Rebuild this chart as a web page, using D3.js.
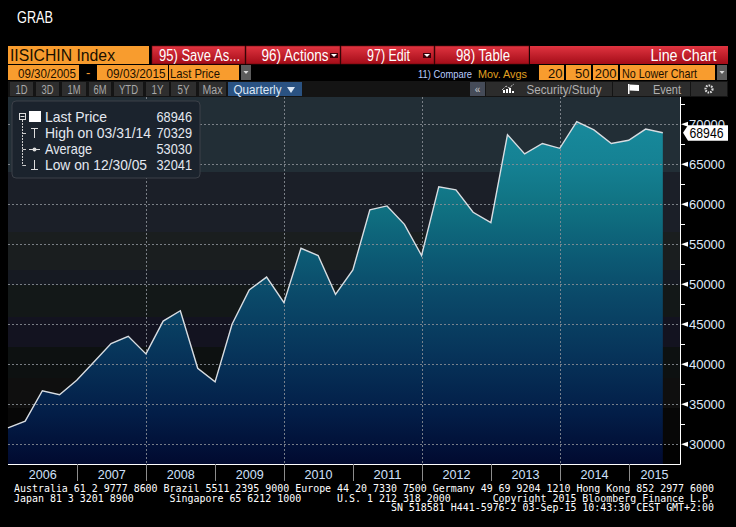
<!DOCTYPE html>
<html><head><meta charset="utf-8">
<script src="https://cdn.jsdelivr.net/npm/d3@7"></script>
<style>
html,body{margin:0;padding:0;background:#000;}
svg{display:block;}
text{font-family:"Liberation Sans",Arial,sans-serif;}
.mono{font-family:"DejaVu Sans Mono",monospace;font-size:10px;fill:#fff;}
</style></head>
<body>
<svg id="c" width="736" height="527"></svg>
<script>
// ---------- DATA ----------
const quarterDates = ["2005-12-30","2006-03-31","2006-06-30","2006-09-29","2006-12-29","2007-03-30","2007-06-29","2007-09-28","2007-12-31","2008-03-31","2008-06-30","2008-09-30","2008-12-31","2009-03-31","2009-06-30","2009-09-30","2009-12-31","2010-03-31","2010-06-30","2010-09-30","2010-12-31","2011-03-31","2011-06-30","2011-09-30","2011-12-30","2012-03-30","2012-06-29","2012-09-28","2012-12-31","2013-03-29","2013-06-28","2013-09-30","2013-12-31","2014-03-31","2014-06-30","2014-09-30","2014-12-31","2015-03-31","2015-06-30"];
const lastPrice = [32041,32900,36700,36200,38000,40300,42600,43500,41300,45400,46700,39500,37800,45000,49300,50900,47700,54500,53600,48750,51800,59300,59800,57500,53600,62200,61800,59000,57700,68700,66300,67600,67000,70329,69300,67600,68000,69400,68946];
const yearLabels = ["2006","2007","2008","2009","2010","2011","2012","2013","2014","2015"];
const yTickValues = [30000,35000,40000,45000,50000,55000,60000,65000,70000];
const yMinorValues = [27500,32500,37500,42500,47500,52500,57500,62500,67500,72500];
const legendRows = [["Last Price","68946"],["High on 03/31/14","70329"],["Average","53030"],["Low on 12/30/05","32041"]];
const periodButtons = ["1D","3D","1M","6M","YTD","1Y","5Y","Max"];
const footerLines = [
 [[0,"Australia 61 2 9777 8600 Brazil 5511 2395 9000 Europe 44 20 7330 7500 Germany 49 69 9204 1210 Hong Kong 852 2977 6000"]],
 [[0,"Japan 81 3 3201 8900"],[26,"Singapore 65 6212 1000"],[54,"U.S. 1 212 318 2000"],[80,"Copyright 2015 Bloomberg Finance L.P."]],
 [[63,"SN 518581 H441-5976-2 03-Sep-15 10:43:30 CEST GMT+2:00"]]
];

// ---------- LAYOUT ----------
const svg = d3.select("#c");
const parse = d3.timeParse("%Y-%m-%d");
const data = quarterDates.map((d,i)=>({date:parse(d), v:lastPrice[i]}));
const L=8, R=680, T=97, B=464;
const x = d3.scaleTime().domain([parse("2005-12-30"), parse("2015-09-29")]).range([L,R]);
const y = d3.scaleLinear().domain([30000,70000]).range([444.3,124.3]);

function txt(p, xx, yy, s, size, fill, w, anchor){
  const t = p.append("text").attr("x",xx).attr("y",yy).attr("font-size",size).attr("fill",fill).text(s);
  if(anchor) t.attr("text-anchor",anchor);
  if(w) t.attr("textLength",w).attr("lengthAdjust","spacingAndGlyphs");
  return t;
}

const defs = svg.append("defs");
const grad = defs.append("linearGradient").attr("id","ag").attr("gradientUnits","userSpaceOnUse")
  .attr("x1",0).attr("x2",0).attr("y1",120).attr("y2",464);
[[0,"#188a9c"],[0.12,"#158294"],[0.25,"#107282"],[0.4,"#0c5a74"],[0.52,"#0a4868"],[0.68,"#07345a"],[0.85,"#031e48"],[1,"#010a30"]]
 .forEach(s=>grad.append("stop").attr("offset",s[0]).attr("stop-color",s[1]));

// background bands of plot
const bands = [[97,172,"#222e36"],[172,232,"#1b1f28"],[232,270,"#1a1e1f"],[270,285,"#161a22"],[285,317,"#131818"],[317,347,"#131320"],[347,378,"#0d1111"],[378,408,"#0f0f0f"],[408,444,"#070707"],[444,464,"#020202"]];
svg.selectAll("rect.band").data(bands).join("rect").attr("class","band")
  .attr("x",L).attr("width",R-L).attr("y",d=>d[0]).attr("height",d=>d[1]-d[0]).attr("fill",d=>d[2]);

// area
const area = d3.area().x(d=>x(d.date)).y0(B).y1(d=>y(d.v));
svg.append("path").datum(data).attr("d",area).attr("fill","url(#ag)");

// grid
const g = svg.append("g");
g.selectAll("line.hg").data(yTickValues).join("line")
  .attr("x1",L).attr("x2",R).attr("y1",d=>Math.round(y(d))+0.5).attr("y2",d=>Math.round(y(d))+0.5)
  .attr("stroke","#8a8f96").attr("stroke-width",1).attr("stroke-dasharray","2,2").attr("opacity",0.85);
const vgrid = ["2008","2010","2012","2014"];
g.selectAll("line.vg").data(vgrid).join("line")
  .attr("x1",d=>Math.round(x(parse(d+"-01-01")))+0.5).attr("x2",d=>Math.round(x(parse(d+"-01-01")))+0.5)
  .attr("y1",T).attr("y2",B)
  .attr("stroke","#8a8f96").attr("stroke-dasharray","2,2").attr("opacity",0.85);

// line
svg.append("path").datum(data).attr("d",d3.line().x(d=>x(d.date)).y(d=>y(d.v)))
  .attr("fill","none").attr("stroke","#d8dde2").attr("stroke-width",1.4);

// axes frame
svg.append("line").attr("x1",R+0.5).attr("x2",R+0.5).attr("y1",T).attr("y2",B+0.5).attr("stroke","#fff");
svg.append("line").attr("x1",L).attr("x2",R+0.5).attr("y1",B+0.5).attr("y2",B+0.5).attr("stroke","#fff");

// y axis
const ya = svg.append("g");
ya.selectAll("line.mt").data(yMinorValues.filter(v=>y(v)>T&&y(v)<B)).join("line")
  .attr("x1",R).attr("x2",R+5).attr("y1",d=>Math.round(y(d))+0.5).attr("y2",d=>Math.round(y(d))+0.5).attr("stroke","#fff");
ya.selectAll("path.tri").data(yTickValues).join("path")
  .attr("d",d=>{const yy=y(d);return `M${R+1},${yy} L${R+8},${yy-2.5} L${R+8},${yy+2.5}Z`;}).attr("fill","#fff");
yTickValues.forEach(v=>txt(ya, R+9, y(v)+5, String(v), 13.5, "#dfe9f8", 36));

// price tag
const lastV = lastPrice[lastPrice.length-1];
const py = y(lastV);
svg.append("path").attr("d",`M${R+3},${py} L${R+8},${py-7.5} L${728},${py-7.5} L${728},${py+8} L${R+8},${py+8}Z`)
  .attr("fill","#fff");
txt(svg, R+9.5, py+5.5, String(lastV), 14, "#000", 34);

// x axis
const years = yearLabels.map(s=>+s);
svg.selectAll("line.ysep").data(years.slice(1)).join("line")
  .attr("x1",d=>Math.round(x(new Date(d,0,1)))+0.5).attr("x2",d=>Math.round(x(new Date(d,0,1)))+0.5)
  .attr("y1",B).attr("y2",481).attr("stroke","#8c8c8c");
yearLabels.forEach(d=>{
  const a=Math.max(L,x(new Date(+d,0,1))), b=Math.min(R,x(new Date(+d+1,0,1)));
  txt(svg,(a+b)/2,479,d,13.5,"#cfe0fb",28,"middle");
});

// footer
const cw = 5.983;
footerLines.forEach((line,li)=>{
  line.forEach(seg=>{
    svg.append("text").attr("class","mono").attr("x",14+seg[0]*cw).attr("y",[491.5,501.5,511][li])
      .attr("textLength",seg[1].length*cw).attr("lengthAdjust","spacingAndGlyphs").text(seg[1]);
  });
});

// title
txt(svg,17,23,"GRAB",16,"#fff",36);

// toolbar row 1
const redG = defs.append("linearGradient").attr("id","rg").attr("x1",0).attr("x2",0).attr("y1",0).attr("y2",1);
redG.append("stop").attr("offset",0).attr("stop-color","#e03440");
redG.append("stop").attr("offset",1).attr("stop-color","#a40c18");
svg.append("rect").attr("x",8).attr("y",46).attr("width",141).attr("height",18).attr("fill","#f89c2e");
txt(svg,10,61,"IISICHIN Index",16,"#1a1000",105);
[[152,93],[246,94],[341,93],[435,94]].forEach(b=>{
  svg.append("rect").attr("x",b[0]).attr("y",46).attr("width",b[1]).attr("height",18).attr("fill","url(#rg)").attr("stroke","#6a0a10").attr("stroke-width",0.6);
});
svg.append("rect").attr("x",530).attr("y",46).attr("width",198).attr("height",18).attr("fill","url(#rg)");
[[159,"95) Save As...",81],[261.5,"96) Actions",67],[367,"97) Edit",43],[456,"98) Table",54]].forEach(t=>{
  txt(svg,t[0],61,t[1],16,"#fff",t[2]);
});
[331,424].forEach(a=>{
  svg.append("rect").attr("x",a-1).attr("y",53).attr("width",8).attr("height",5).attr("fill","#3a0008");
  svg.append("path").attr("d",`M${a},54 L${a+6},54 L${a+3},57Z`).attr("fill","#fff");
});
txt(svg,716.5,61,"Line Chart",16,"#fff",66,"end");

// toolbar row 2
[[8,71,"09/30/2005",18,58],[97,71,"09/03/2015",106.5,59],[169,70,"Last Price",170,50]].forEach(b=>{
  svg.append("rect").attr("x",b[0]).attr("y",65).attr("width",b[1]).attr("height",15).attr("fill","#f89c2e");
  txt(svg,b[3],77.5,b[2],13,"#1a1000",b[4]);
});
txt(svg,86,77,"-",13,"#f89c2e");
[241,717].forEach(a=>{
  svg.append("rect").attr("x",a).attr("y",65).attr("width",10).attr("height",15).attr("fill","#5c5c5c");
  svg.append("path").attr("d",`M${a+2.5},71 L${a+7.5},71 L${a+5},74Z`).attr("fill","#ddd");
});
txt(svg,418,77.5,"11) Compare",11,"#b8ccff",54);
txt(svg,478,77.5,"Mov. Avgs",11.5,"#e0a020",49);
[[539,26,"20"],[566,26,"50"],[593,26,"200"]].forEach(b=>{
  svg.append("rect").attr("x",b[0]).attr("y",65).attr("width",b[1]-1).attr("height",15).attr("fill","#f89c2e");
  txt(svg,b[0]+b[1]-2.5,77.5,b[2],13,"#1a1000",null,"end");
});
svg.append("rect").attr("x",620).attr("y",65).attr("width",95).attr("height",15).attr("fill","#f89c2e");
txt(svg,622,77.5,"No Lower Chart",13,"#1a1000",75);

// toolbar row 3
svg.append("rect").attr("x",8).attr("y",81).attr("width",720).attr("height",16).attr("fill","#141414");
const pbX = [[10,23,12],[36,23,12],[62,24,13],[89,22,13],[114,29,19],[146,23,12],[171,25,12],[199,27,20]];
periodButtons.forEach((p,i)=>{
  svg.append("rect").attr("x",pbX[i][0]).attr("y",82).attr("width",pbX[i][1]).attr("height",14).attr("fill","#2e2e2e");
  txt(svg,pbX[i][0]+pbX[i][1]/2,93.5,p,12.5,"#a8a8a8",pbX[i][2],"middle");
});
svg.append("rect").attr("x",228).attr("y",82).attr("width",74).attr("height",14).attr("fill","#2a5282");
txt(svg,233.5,93.5,"Quarterly",13,"#dce8f6",48);
svg.append("path").attr("d","M287,87 L295,87 L291,93Z").attr("fill","#dce8f6");
svg.append("rect").attr("x",470).attr("y",82).attr("width",15).attr("height",14).attr("fill","#454b58");
txt(svg,477.5,93,"«",10,"#ccc",null,"middle");
[[486,126],[613,77],[691,36]].forEach(b=>{
  svg.append("rect").attr("x",b[0]).attr("y",82).attr("width",b[1]).attr("height",14).attr("fill","#2c2c2c");
});
txt(svg,526.5,93.5,"Security/Study",13,"#b0b0b0",75);
txt(svg,653,93.5,"Event",13,"#b0b0b0",28);
// study icon
[[503,3],[506,4],[509,5],[512,2]].forEach(r=>svg.append("rect").attr("x",r[0]).attr("y",93-r[1]).attr("width",2).attr("height",r[1]).attr("fill","#fff"));
svg.append("path").attr("d","M502,90 L506,86 L509,88 L514,84").attr("stroke","#fff").attr("fill","none").attr("stroke-dasharray","1,1");
// flag icon
svg.append("rect").attr("x",628).attr("y",84).attr("width",1.5).attr("height",10).attr("fill","#fff");
svg.append("path").attr("d","M629.5,84.5 L639,85 L639,91 L629.5,90.5Z").attr("fill","#fff");
// gear
svg.append("circle").attr("cx",709).attr("cy",89).attr("r",3.5).attr("fill","none").attr("stroke","#ddd").attr("stroke-width",2.2).attr("stroke-dasharray","1.6,1");
svg.append("circle").attr("cx",709).attr("cy",89).attr("r",1.3).attr("fill","#2c2c2c");

// legend
const lg = svg.append("g");
lg.append("rect").attr("x",12).attr("y",101).attr("width",188).attr("height",77).attr("rx",4)
  .attr("fill","#1b232d").attr("stroke","#3c4048");
const rowY = [122,138,154,170];
lg.append("rect").attr("x",19.5).attr("y",113.5).attr("width",6).attr("height",6).attr("fill","none").attr("stroke","#ddd");
lg.append("line").attr("x1",20.5).attr("x2",24.5).attr("y1",116.5).attr("y2",116.5).attr("stroke","#ddd");
lg.append("rect").attr("x",29).attr("y",111).attr("width",12).attr("height",11).attr("fill","#fff");
lg.append("line").attr("x1",22.5).attr("x2",22.5).attr("y1",120).attr("y2",165.5).attr("stroke","#ccc").attr("stroke-dasharray","2,1");
[133.5,149.5,165.5].forEach(yy=>lg.append("line").attr("x1",22.5).attr("x2",26).attr("y1",yy).attr("y2",yy).attr("stroke","#ccc"));
lg.append("path").attr("d","M31,128.5 L38,128.5 M34.5,128.5 L34.5,138").attr("stroke","#ddd").attr("fill","none");
lg.append("path").attr("d","M29,149.5 L40,149.5").attr("stroke","#ddd");
lg.append("circle").attr("cx",34.5).attr("cy",149.5).attr("r",2).attr("fill","#ddd");
lg.append("path").attr("d","M34.5,160 L34.5,169.5 M31,169.5 L38,169.5").attr("stroke","#ddd").attr("fill","none");
const labW = [62,106,47,102];
legendRows.forEach((r,i)=>{
  txt(lg,45,rowY[i],r[0],14.5,"#e4e8f0",labW[i]);
  txt(lg,192,rowY[i],r[1],14.5,"#e4e8f0",35.5,"end");
});
</script>
</body></html>
